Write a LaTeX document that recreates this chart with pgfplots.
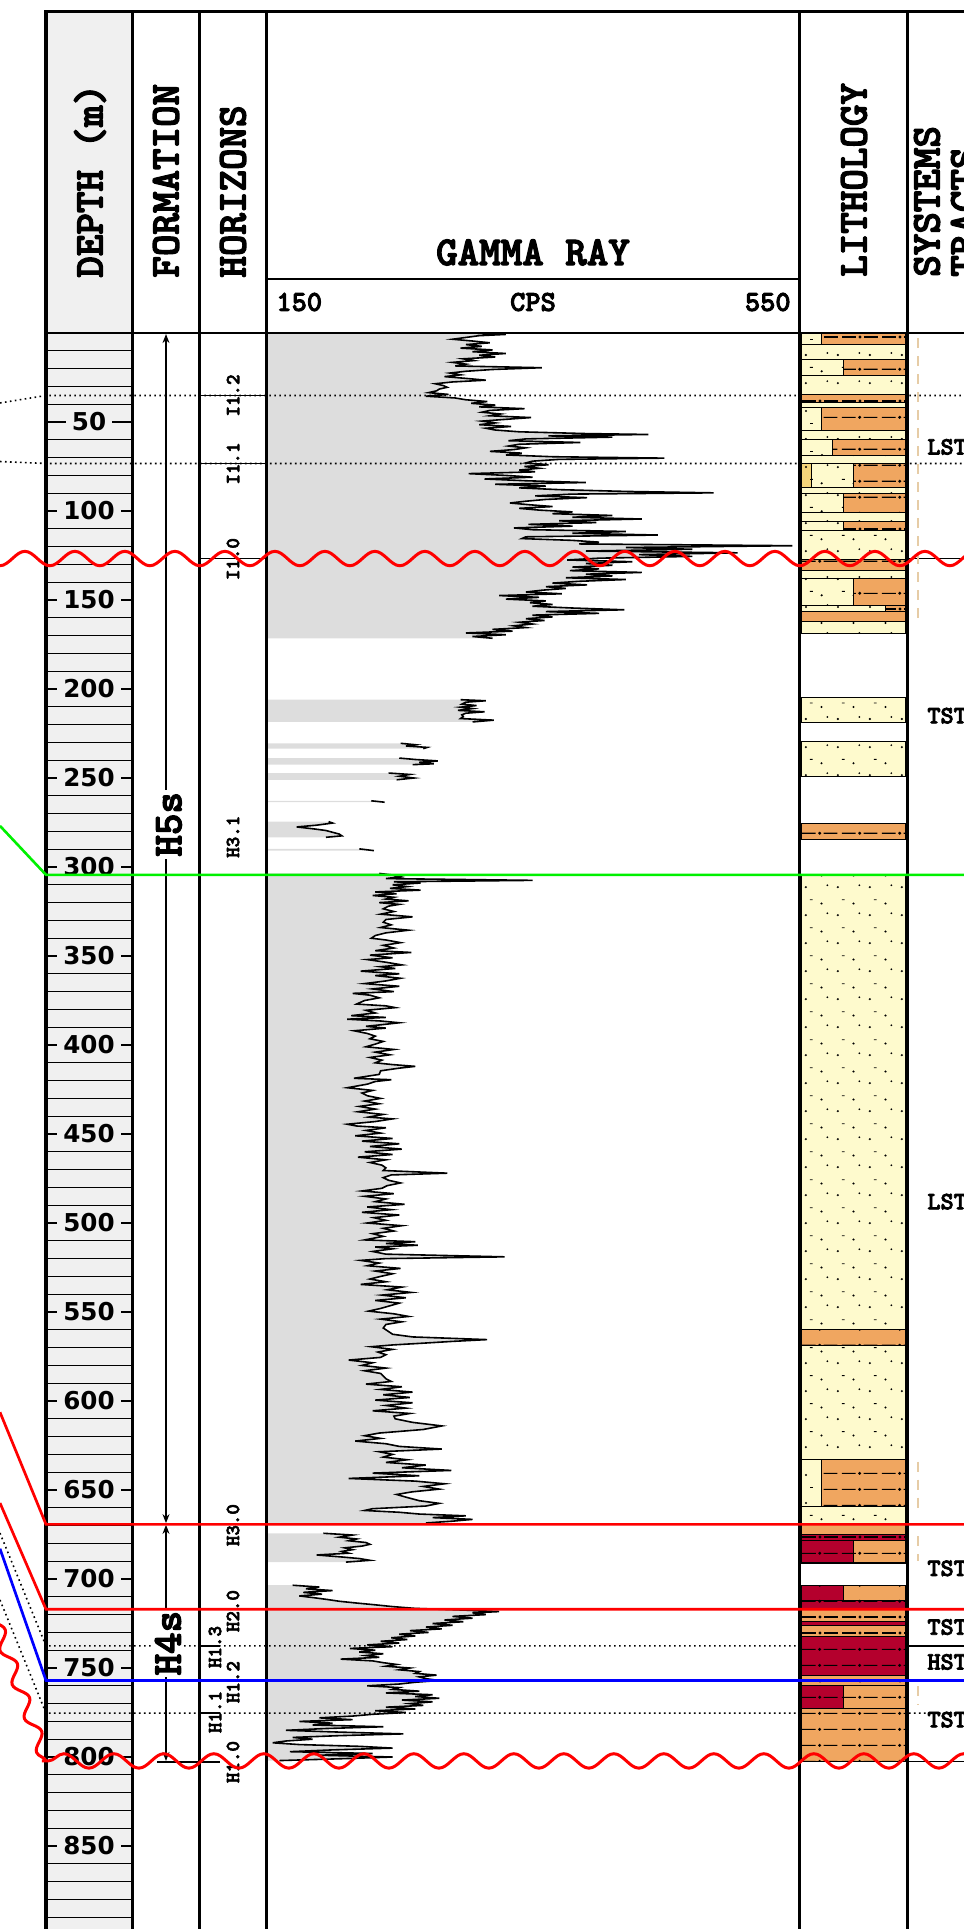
\documentclass[border=0pt]{standalone}
\usepackage{fontspec}
\setmainfont{Liberation Mono}
\newfontfamily\cour{lmmonolt10-bold}[Extension=.otf, FakeBold=3]
\newfontfamily\depthfont{DejaVu Sans}
\usepackage{pgfplots}
\pgfplotsset{compat=1.18}
\usepackage{pgfplotstable}
\usetikzlibrary{patterns,decorations.pathmorphing,arrows.meta}

\definecolor{depthgray}{HTML}{F0F0F0}
\definecolor{grfill}{HTML}{DDDDDD}
\definecolor{sandY}{HTML}{FEFACD}
\definecolor{shaleO}{HTML}{F0A660}
\definecolor{redR}{HTML}{B4002D}
\definecolor{goldG}{HTML}{F5D57A}
\definecolor{tanline}{HTML}{E6CCA6}
\definecolor{corrGreen}{HTML}{00F000}
\definecolor{corrRed}{HTML}{FF0000}
\definecolor{corrBlue}{HTML}{0000FF}

\pgfdeclarepatternformonly{sandpat}{\pgfqpoint{0pt}{0pt}}{\pgfqpoint{16pt}{14pt}}{\pgfqpoint{16pt}{14pt}}{%
  \pgfpathcircle{\pgfqpoint{3pt}{3pt}}{0.6pt}%
  \pgfpathcircle{\pgfqpoint{11pt}{9pt}}{0.6pt}%
  \pgfpathcircle{\pgfqpoint{14pt}{4pt}}{0.5pt}%
  \pgfusepath{fill}%
  \pgfsetlinewidth{0.45pt}%
  \pgfpathmoveto{\pgfqpoint{5pt}{11pt}}\pgfpathlineto{\pgfqpoint{6.5pt}{11pt}}%
  \pgfusepath{stroke}}
\pgfdeclarepatternformonly{shalepat}{\pgfqpoint{0pt}{0pt}}{\pgfqpoint{20pt}{8pt}}{\pgfqpoint{20pt}{8pt}}{%
  \pgfsetlinewidth{0.55pt}%
  \pgfpathmoveto{\pgfqpoint{1pt}{4pt}}\pgfpathlineto{\pgfqpoint{8pt}{4pt}}%
  \pgfpathmoveto{\pgfqpoint{12pt}{4pt}}\pgfpathlineto{\pgfqpoint{19pt}{4pt}}%
  \pgfusepath{stroke}%
  \pgfpathcircle{\pgfqpoint{10pt}{4pt}}{0.85pt}%
  \pgfusepath{fill}}

\tikzset{corrdot/.style={black, line width=0.8pt, dash pattern=on 0.8pt off 1.7pt}}

\newcommand{\hdr}{\cour\fontsize{20.5}{22}\selectfont}
\newcommand{\hzf}{\cour\fontsize{10}{11}\selectfont}
\newcommand{\stf}{\cour\fontsize{12.5}{13}\selectfont}
\newcommand{\scf}{\cour\fontsize{14.5}{15}\selectfont}

\newcommand{\lay}[6]{\addplot[draw=black, line width=0.5pt, fill=#5, postaction={pattern=#6}] coordinates {(#1,#3) (#2,#3) (#2,#4) (#1,#4)} -- cycle;}

% gamma-ray segment: filled from 150 CPS to the curve, then the curve
\newcommand{\grseg}[3]{%
  \addplot[fill=grfill, draw=none] table[x=g,y=d] {#1} -- (axis cs:150,#3) -- (axis cs:150,#2) -- cycle;
  \addplot[black, line width=0.8pt] table[x=g,y=d] {#1};
}

% gamma-ray segments: depth (m), GR (CPS)
\pgfplotstableread[row sep=\\]{d g\\
0 305\\ 0.8 330\\ 1.5 310\\ 2.5 300\\ 3.5 290\\ 4.5 305\\ 5.5 318\\ 6.5 300\\ 7.5 312\\ 8.5 296\\
9.5 320\\ 10.5 305\\ 11.5 330\\ 12.5 310\\ 13.5 322\\ 14.5 298\\ 15.5 306\\ 16.5 290\\ 17.5 300\\ 18.5 292\\
19.5 357\\ 20.5 320\\ 21.5 300\\ 22.5 288\\ 23.5 296\\ 24.5 284\\ 25.5 300\\ 26.5 315\\ 27.5 290\\ 28.5 277\\
29.5 283\\ 30.5 286\\ 31.5 280\\ 32.5 278\\ 33.5 272\\ 34.5 287\\ 35.5 270\\ 36.5 292\\ 37.5 300\\ 38.5 316\\
39.5 304\\ 40.5 322\\ 41.5 310\\ 42.5 344\\ 43.5 318\\ 44.5 312\\ 45.5 326\\ 46.5 318\\ 47.5 349\\ 48.5 330\\
49.5 312\\ 50.5 322\\ 51.5 310\\ 52.5 334\\ 53.5 315\\ 54.5 322\\ 55.5 340\\ 56.5 390\\ 57.0 437\\ 57.8 362\\
58.5 410\\ 59.5 345\\ 60.5 332\\ 61.5 386\\ 62.5 340\\ 63.5 332\\ 64.5 345\\ 65.5 336\\ 66.5 318\\ 67.5 342\\
68.5 330\\ 69.5 365\\ 70.3 449\\ 71.0 370\\ 72.0 350\\ 73.0 345\\ 74.0 362\\ 75.0 344\\ 76.0 355\\ 77.0 340\\
78.0 352\\ 79.0 302\\ 80.0 330\\ 81.0 350\\ 82.0 314\\ 83.0 345\\ 84.0 390\\ 85.0 322\\ 86.0 360\\ 87.0 340\\
88.0 370\\ 89.0 420\\ 89.8 486\\ 90.5 380\\ 91.5 352\\ 92.5 391\\ 93.5 360\\ 94.5 345\\ 95.5 333\\ 96.5 348\\
97.5 365\\ 98.5 340\\ 99.5 355\\ 100.5 380\\ 101.5 365\\ 102.5 410\\ 103.5 380\\ 104.5 432\\ 105.5 370\\ 106.5 398\\
107.5 347\\ 108.5 380\\ 109.5 336\\ 110.5 350\\ 111.5 420\\ 112.5 380\\ 113.5 444\\ 114.5 345\\ 115.5 342\\ 116.5 380\\
117.5 400\\ 118.5 385\\ 119.5 545\\ 120.5 420\\ 121.5 470\\ 122.5 390\\ 123.5 504\\ 124.5 430\\ 125.5 470\\ 126.5 400\\
127.5 376\\ 128.5 425\\ 129.5 390\\ 130.5 410\\ 131.5 380\\ 132.5 400\\ 133.5 378\\ 134.5 432\\ 135.5 390\\ 136.5 410\\
137.5 375\\ 138.5 420\\ 139.5 385\\ 140.5 365\\ 141.5 391\\ 142.5 360\\ 143.5 375\\ 144.5 357\\ 145.5 345\\ 146.5 372\\
147.5 325\\ 148.5 355\\ 149.5 330\\ 150.5 360\\ 151.5 348\\ 152.5 365\\ 153.5 350\\ 154.5 380\\ 155.5 419\\ 156.5 360\\
157.5 400\\ 158.5 350\\ 159.5 365\\ 160.5 345\\ 161.5 359\\ 162.5 340\\ 163.5 350\\ 164.5 336\\ 165.5 345\\ 166.5 320\\
167.5 335\\ 168.5 300\\ 169.5 330\\ 170.5 305\\ 171.5 320\\
}\segA
\pgfplotstableread[row sep=\\]{d g\\
206.0 296\\ 206.6 315\\ 207.4 300\\ 208.5 297\\ 209.3 308\\ 210.2 296\\ 211.0 305\\ 212.0 294\\ 212.8 314\\ 213.6 300\\
214.5 297\\ 215.5 298\\ 216.6 296\\ 217.5 321\\ 218.5 305\\
}\segB
\pgfplotstableread[row sep=\\]{d g\\ 230.5 251\\ 231.3 262\\ 232.0 255\\ 232.8 271\\ 233.5 268\\}\segC
\pgfplotstableread[row sep=\\]{d g\\ 238.8 250\\ 239.6 262\\ 240.4 279\\ 241.2 265\\ 242.0 276\\ 242.5 260\\}\segD
\pgfplotstableread[row sep=\\]{d g\\ 247.2 242\\ 248.0 258\\ 249.0 250\\ 250.0 261\\ 251.0 248\\}\segE
\pgfplotstableread[row sep=\\]{d g\\ 262.8 229\\ 263.6 239\\}\segF
\pgfplotstableread[row sep=\\]{d g\\ 274.5 197\\ 275.3 200\\ 276.5 188\\ 277.5 173\\ 278.5 185\\ 279.5 195\\ 280.5 200\\ 281.5 205\\ 282.5 207\\ 283.3 195\\}\segG
\pgfplotstableread[row sep=\\]{d g\\ 289.8 220\\ 290.8 231\\}\segH
\pgfplotstableread[row sep=\\]{d g\\
303.6 235\\ 304.5 245\\ 305.5 251\\ 306.5 240\\ 307.5 350\\ 308.3 246\\ 309.0 266\\ 310.0 245\\ 311.0 256\\ 312.0 243\\
313.0 266\\ 314.0 232\\ 315.0 248\\ 316.0 230\\ 317.0 246\\ 318.0 240\\ 319.0 257\\ 320.0 235\\ 321.0 250\\ 322.0 242\\
323.5 238\\ 325.0 246\\ 326.5 236\\ 328.0 260\\ 329.5 240\\ 331.0 238\\ 332.5 244\\ 334.0 236\\ 335.5 257\\ 337.0 240\\
338.5 232\\ 340.0 229\\ 341.0 240\\ 342.5 251\\ 344.0 238\\ 345.5 246\\ 347.0 232\\ 348.0 259\\ 349.5 228\\ 351.0 245\\
352.0 226\\ 353.5 240\\ 355.0 252\\ 356.0 236\\ 357.0 247\\ 358.5 221\\ 360.0 250\\ 361.0 232\\ 362.5 251\\ 364.0 240\\
365.5 224\\ 367.0 250\\ 368.5 230\\ 370.0 246\\ 371.0 215\\ 372.0 228\\ 373.5 235\\ 375.0 224\\ 377.0 218\\ 378.0 240\\
379.0 247\\ 380.5 225\\ 382.0 232\\ 383.5 214\\ 384.5 240\\ 385.5 211\\ 386.5 236\\ 387.5 250\\ 388.5 238\\ 389.5 225\\
390.5 240\\ 392.0 216\\ 393.5 226\\ 395.0 232\\ 396.5 228\\ 398.0 238\\ 399.5 232\\ 401.0 225\\ 402.5 246\\ 404.0 232\\
405.5 243\\ 407.0 228\\ 408.5 237\\ 410.0 232\\ 411.0 245\\ 412.0 262\\ 413.0 250\\ 414.5 236\\ 416.5 235\\ 418.7 216\\
419.5 244\\ 420.5 232\\ 422.0 226\\ 424.0 211\\ 425.5 230\\ 427.0 222\\ 428.5 226\\ 430.0 236\\ 431.5 224\\ 433.0 235\\
434.5 220\\ 436.0 232\\ 437.5 219\\ 439.0 238\\ 440.5 227\\ 441.5 245\\ 443.0 232\\ 444.5 211\\ 445.5 218\\ 446.5 240\\
448.0 225\\ 449.5 236\\ 451.0 217\\ 452.5 245\\ 454.0 222\\ 455.5 250\\ 457.0 228\\ 458.5 252\\ 460.0 224\\ 461.5 245\\
463.0 219\\ 464.5 240\\ 466.0 228\\ 467.5 237\\ 469.0 240\\ 470.5 238\\ 472.0 286\\ 473.0 244\\ 474.5 238\\ 476.0 242\\
477.5 251\\ 479.0 241\\ 480.5 237\\ 482.0 222\\ 483.5 246\\ 485.0 224\\ 486.5 240\\ 488.0 232\\ 489.5 254\\ 491.0 226\\
492.5 244\\ 494.0 222\\ 495.5 250\\ 497.0 231\\ 498.5 240\\ 500.0 226\\ 501.5 252\\ 503.0 238\\ 504.5 246\\ 506.0 230\\
507.5 238\\ 509.5 224\\ 510.5 262\\ 511.5 240\\ 512.5 264\\ 513.5 232\\ 514.5 245\\ 516.0 230\\ 517.5 240\\ 519.0 329\\
520.0 240\\ 521.0 221\\ 522.5 235\\ 524.0 226\\ 525.5 251\\ 527.0 232\\ 528.5 245\\ 530.0 236\\ 531.5 228\\ 533.0 240\\
534.5 221\\ 536.0 252\\ 537.5 241\\ 539.0 259\\ 540.5 237\\ 542.0 255\\ 543.5 232\\ 545.0 250\\ 546.5 243\\ 548.0 236\\
549.5 227\\ 551.0 246\\ 552.5 257\\ 554.0 236\\ 555.5 252\\ 557.0 240\\ 559.0 238\\ 561.0 242\\ 562.5 245\\ 564.0 260\\
565.5 316\\ 566.5 290\\ 567.5 268\\ 568.5 245\\ 569.5 229\\ 571.0 245\\ 572.5 234\\ 574.0 240\\ 575.5 236\\ 577.0 212\\
578.5 230\\ 580.0 222\\ 581.5 240\\ 583.0 224\\ 584.5 236\\ 586.0 238\\ 587.5 240\\ 589.0 244\\ 590.5 225\\ 592.0 252\\
593.5 236\\ 595.0 260\\ 596.5 238\\ 598.0 258\\ 599.5 232\\ 601.0 260\\ 602.5 240\\ 604.0 255\\ 605.5 230\\ 607.0 258\\
608.5 246\\ 610.0 247\\ 612.0 260\\ 614.0 282\\ 616.0 268\\ 618.0 235\\ 619.5 224\\ 621.0 236\\ 622.5 217\\ 624.0 240\\
625.5 250\\ 627.0 282\\ 628.5 235\\ 630.0 245\\ 631.5 238\\ 633.0 256\\ 634.5 240\\ 636.0 270\\ 637.5 252\\ 639.0 289\\
640.5 230\\ 642.0 265\\ 643.5 212\\ 645.0 262\\ 646.5 284\\ 648.0 268\\ 649.5 280\\ 651.0 260\\ 652.5 248\\ 654.0 255\\
656.0 265\\ 657.5 280\\ 659.0 270\\ 660.5 230\\ 661.5 224\\ 662.5 250\\ 663.5 265\\ 664.5 300\\ 665.5 275\\ 666.5 305\\
667.5 290\\ 668.5 270\\
}\segI
\pgfplotstableread[row sep=\\]{d g\\
674.3 193\\ 675.3 215\\ 676.5 205\\ 677.5 218\\ 678.5 212\\ 679.5 225\\ 680.5 228\\ 681.5 222\\ 682.5 209\\ 683.5 215\\
684.5 207\\ 685.5 212\\ 686.5 188\\ 687.5 205\\ 688.5 220\\ 689.5 228\\ 690.5 210\\
}\segJ
\pgfplotstableread[row sep=\\]{d g\\
703.5 170\\ 704.5 190\\ 705.5 180\\ 706.5 200\\ 707.5 178\\ 708.5 192\\ 709.5 175\\ 710.5 186\\ 711.5 196\\ 712.5 205\\
713.5 218\\ 714.5 232\\ 715.5 245\\ 716.5 262\\ 717.5 300\\ 718.3 325\\ 719.0 305\\ 720.0 315\\ 721.0 290\\ 722.0 305\\
723.0 284\\ 724.0 298\\ 725.0 275\\ 726.0 290\\ 727.0 270\\ 728.0 282\\ 729.0 258\\ 730.0 272\\ 731.0 250\\ 732.0 262\\
733.0 244\\ 734.0 256\\ 735.0 236\\ 736.0 250\\ 737.0 226\\ 738.0 245\\ 739.0 213\\ 740.0 232\\ 741.0 220\\ 742.0 238\\
743.0 225\\ 744.0 235\\ 745.0 206\\ 746.0 230\\ 747.0 238\\ 748.0 248\\ 749.0 240\\ 750.0 258\\ 751.0 250\\ 752.0 265\\
753.0 262\\ 754.0 278\\ 755.0 265\\ 756.0 270\\ 757.0 280\\ 758.0 262\\ 759.0 250\\ 760.0 226\\ 761.0 250\\ 762.0 245\\
763.0 265\\ 764.0 240\\ 765.0 275\\ 766.0 262\\ 767.0 280\\ 768.0 252\\ 769.0 275\\ 770.0 258\\ 771.0 268\\ 772.0 240\\
773.0 262\\ 774.0 232\\ 775.0 255\\ 776.0 230\\ 777.0 215\\ 778.0 190\\ 779.0 215\\ 780.0 175\\ 781.0 200\\ 782.0 185\\
783.0 238\\ 784.0 195\\ 785.0 165\\ 786.0 205\\ 787.0 253\\ 788.0 205\\ 789.0 170\\ 790.0 185\\ 791.0 165\\ 792.0 155\\
793.0 175\\ 794.0 220\\ 795.0 245\\ 796.0 200\\ 797.0 168\\ 798.0 230\\ 799.0 190\\ 800.0 245\\ 801.0 205\\ 802.0 160\\
}\segK

\begin{document}
\begin{tikzpicture}
% ---- depth ruler column ----
\begin{axis}[at={(23pt,0pt)}, anchor=south west, scale only axis,
  width=43pt, height=959pt, xmin=0, xmax=1, ymin=-180.9, ymax=896.63, y dir=reverse,
  axis line style={draw=none}, xtick=\empty, ytick={10,20,...,890}, yticklabels={},
  major tick length=0pt, ymajorgrids, grid style={black, line width=0.65pt},
  axis background/.style={fill=depthgray}]
\addplot[draw=none] coordinates {(0.5,100)};
\end{axis}

% ---- gamma ray track ----
\begin{axis}[at={(133pt,0pt)}, anchor=south west, scale only axis,
  width=266.5pt, height=964.5pt, xmin=150, xmax=550, ymin=-187.08, ymax=896.63,
  y dir=reverse, hide axis]
\grseg{\segA}{0}{171.5}
\grseg{\segB}{206.0}{218.5}
\grseg{\segC}{230.5}{233.5}
\grseg{\segD}{238.8}{242.5}
\grseg{\segE}{247.2}{251.0}
\grseg{\segF}{262.8}{263.6}
\grseg{\segG}{274.5}{283.3}
\grseg{\segH}{289.8}{290.8}
\grseg{\segI}{303.6}{668.5}
\grseg{\segJ}{674.3}{690.5}
\grseg{\segK}{703.5}{802.0}
\end{axis}

% ---- master frame (x in pixels, y in depth) ----
\begin{axis}[at={(0pt,0pt)}, anchor=south west, scale only axis,
  width=482pt, height=964.5pt, xmin=0, xmax=964, ymin=-187.08, ymax=896.63,
  y dir=reverse, hide axis]
% dotted correlation lines
\addplot[corrdot] coordinates {(0,39.3) (46,35.1) (964,35.1)};
\addplot[corrdot] coordinates {(0,72.2) (46,73.3) (964,73.3)};
\addplot[corrdot] coordinates {(0,674.2) (46,737.6) (964,737.6)};
\addplot[corrdot] coordinates {(0,711.8) (46,775.3) (964,775.3)};
% horizon ticks
\draw[line width=0.8pt] (axis cs:199,35.1) -- (axis cs:266,35.1);
\draw[line width=0.8pt] (axis cs:199,73.3) -- (axis cs:266,73.3);
\draw[line width=0.8pt] (axis cs:199,126.7) -- (axis cs:266,126.7);
\draw[line width=0.8pt] (axis cs:199,737.6) -- (axis cs:220,737.6);
\draw[line width=0.8pt] (axis cs:199,775.3) -- (axis cs:220,775.3);
\draw[line width=0.8pt] (axis cs:157,802.8) -- (axis cs:220,802.8);
% lithology
\lay{801}{821}{0}{6.5}{sandY}{sandpat} \lay{821}{905}{0}{6.5}{shaleO}{shalepat}
\lay{801}{905}{6.5}{14.7}{sandY}{sandpat}
\lay{801}{843}{14.7}{23.6}{sandY}{sandpat} \lay{843}{905}{14.7}{23.6}{shaleO}{shalepat}
\lay{801}{905}{23.6}{34.5}{sandY}{sandpat}
\lay{801}{905}{34.5}{38.8}{shaleO}{shalepat}
\lay{801}{905}{38.8}{42}{sandY}{sandpat}
\lay{801}{821}{42}{55}{sandY}{sandpat} \lay{821}{905}{42}{55}{shaleO}{shalepat}
\lay{801}{905}{55}{59.7}{sandY}{sandpat}
\lay{801}{832}{59.7}{69}{sandY}{sandpat} \lay{832}{905}{59.7}{69}{shaleO}{shalepat}
\lay{801}{905}{69}{73.4}{sandY}{sandpat}
\lay{801}{811}{73.4}{86.8}{goldG}{sandpat} \lay{811}{853}{73.4}{86.8}{sandY}{sandpat} \lay{853}{905}{73.4}{86.8}{shaleO}{shalepat}
\lay{801}{905}{86.8}{90.3}{sandY}{sandpat}
\lay{801}{843}{90.3}{100.7}{sandY}{sandpat} \lay{843}{905}{90.3}{100.7}{shaleO}{shalepat}
\lay{801}{905}{100.7}{105.9}{sandY}{sandpat}
\lay{801}{843}{105.9}{111.1}{sandY}{sandpat} \lay{843}{905}{105.9}{111.1}{shaleO}{shalepat}
\lay{801}{905}{111.1}{127}{sandY}{sandpat}
\lay{801}{905}{127}{133.3}{shaleO}{shalepat}
\lay{801}{905}{133.3}{137.8}{sandY}{sandpat}
\lay{801}{853}{137.8}{153}{sandY}{sandpat} \lay{853}{905}{137.8}{153}{shaleO}{shalepat}
\lay{801}{885}{153}{156.2}{sandY}{sandpat} \lay{885}{905}{153}{156.2}{shaleO}{shalepat}
\lay{801}{905}{156.2}{162.2}{shaleO}{shalepat}
\lay{801}{905}{162.2}{168.9}{sandY}{sandpat}
\lay{801}{905}{204.5}{218.8}{sandY}{sandpat}
\lay{801}{905}{229.3}{249}{sandY}{sandpat}
\lay{801}{905}{275.3}{284.8}{shaleO}{shalepat}
\lay{801}{905}{304.4}{560}{sandY}{sandpat}
\lay{801}{905}{560}{569}{shaleO}{shalepat}
\lay{801}{905}{569}{633}{sandY}{sandpat}
\lay{801}{821}{633}{659.5}{sandY}{sandpat} \lay{821}{905}{633}{659.5}{shaleO}{shalepat}
\lay{801}{905}{659.5}{669}{sandY}{sandpat}
\lay{801}{905}{669}{675.2}{shaleO}{shalepat}
\lay{801}{905}{675.2}{678.5}{redR}{shalepat}
\lay{801}{853}{678.5}{691}{redR}{shalepat} \lay{853}{905}{678.5}{691}{shaleO}{shalepat}
\lay{801}{843}{703.4}{712}{redR}{shalepat} \lay{843}{905}{703.4}{712}{shaleO}{shalepat}
\lay{801}{905}{712}{716.9}{redR}{shalepat}
\lay{801}{905}{716.9}{724}{shaleO}{shalepat}
\lay{801}{905}{724}{726}{redR}{shalepat}
\lay{801}{905}{726}{732.4}{shaleO}{shalepat}
\lay{801}{905}{732.4}{754}{redR}{shalepat}
\lay{801}{905}{754}{759.8}{shaleO}{shalepat}
\lay{801}{843}{759.8}{772.6}{redR}{shalepat} \lay{843}{905}{759.8}{772.6}{shaleO}{shalepat}
\lay{801}{905}{772.6}{802.5}{shaleO}{shalepat}
% systems tracts boundaries and dashed marks
\draw[line width=0.7pt] (axis cs:907,126.7) -- (axis cs:964,126.7);
\draw[line width=0.7pt] (axis cs:907,737.6) -- (axis cs:964,737.6);
\draw[line width=0.9pt] (axis cs:907,802.5) -- (axis cs:964,802.5);
\draw[tanline, line width=1pt, dash pattern=on 5pt off 4pt] (axis cs:918,3) -- (axis cs:918,160);
\draw[tanline, line width=1pt, dash pattern=on 5pt off 4pt] (axis cs:918,634) -- (axis cs:918,660);
\draw[tanline, line width=1pt, dash pattern=on 5pt off 4pt] (axis cs:918,676) -- (axis cs:918,690);
\draw[tanline, line width=1pt, dash pattern=on 5pt off 4pt] (axis cs:918,760) -- (axis cs:918,771);
% frame
\draw[line width=1.5pt, line cap=rect] (axis cs:46,-180.9) -- (axis cs:964,-180.9);
\draw[line width=1.3pt] (axis cs:46,0) -- (axis cs:964,0);
\draw[line width=1pt] (axis cs:266,-30.3) -- (axis cs:799,-30.3);
\pgfplotsinvokeforeach{46,132,199,266,799,907}{
  \draw[line width=1.5pt, line cap=rect] (axis cs:#1,-180.9) -- (axis cs:#1,900);
}
% depth labels
\pgfplotsinvokeforeach{50,100,...,850}{
  \node[fill=depthgray, inner xsep=3pt, inner ysep=1pt, font=\depthfont\bfseries\fontsize{12.3}{14}\selectfont] at (axis cs:89,#1) {#1};
}
% header texts
\node[rotate=90, anchor=west, inner sep=0pt, font=\hdr] at (axis cs:90,-30.9) {DEPTH (m)};
\node[rotate=90, anchor=west, inner sep=0pt, font=\hdr] at (axis cs:166,-30.9) {FORMATION};
\node[rotate=90, anchor=west, inner sep=0pt, font=\hdr] at (axis cs:233,-30.9) {HORIZONS};
\node[rotate=90, anchor=west, inner sep=0pt, font=\hdr] at (axis cs:854,-31.4) {LITHOLOGY};
\node[rotate=90, anchor=west, inner sep=0pt, font=\hdr] at (axis cs:927,-31.4) {SYSTEMS};
\node[rotate=90, anchor=west, inner sep=0pt, font=\hdr] at (axis cs:964,-31.4) {TRACTS};
\node[anchor=base, inner sep=0pt, font=\hdr] at (axis cs:533,-38.2) {GAMMA RAY};
\node[anchor=west, inner sep=0pt, font=\scf] at (axis cs:276,-17.4) {150};
\node[anchor=center, inner sep=0pt, font=\scf] at (axis cs:533,-17.4) {CPS};
\node[anchor=east, inner sep=0pt, font=\scf] at (axis cs:791,-17.4) {550};
% formation arrows and labels
\draw[line width=0.6pt, {Stealth[length=4.5pt,width=3.5pt]}-{Stealth[length=4.5pt,width=3.5pt]}] (axis cs:166,0.6) -- (axis cs:166,668.6);
\draw[line width=0.6pt, {Stealth[length=4.5pt,width=3.5pt]}-{Stealth[length=4.5pt,width=3.5pt]}] (axis cs:166,669.6) -- (axis cs:166,802.2);
\node[rotate=90, fill=white, inner sep=1pt, font=\hdr] at (axis cs:169,276) {H5s};
\node[rotate=90, fill=white, inner sep=1pt, font=\hdr] at (axis cs:168,736) {H4s};
% horizon labels
\node[rotate=90, font=\hzf, inner sep=0pt] at (axis cs:233,35.1) {I1.2};
\node[rotate=90, font=\hzf, inner sep=0pt] at (axis cs:233,73.3) {I1.1};
\node[rotate=90, font=\hzf, inner sep=0pt] at (axis cs:233,127) {I1.0};
\node[rotate=90, font=\hzf, inner sep=0pt] at (axis cs:233,283) {H3.1};
\node[rotate=90, font=\hzf, inner sep=0pt] at (axis cs:233,669.7) {H3.0};
\node[rotate=90, font=\hzf, inner sep=0pt] at (axis cs:233,718) {H2.0};
\node[rotate=90, font=\hzf, inner sep=0pt] at (axis cs:215,738.2) {H1.3};
\node[rotate=90, font=\hzf, inner sep=0pt] at (axis cs:233,757.9) {H1.2};
\node[rotate=90, font=\hzf, inner sep=0pt] at (axis cs:215,774.7) {H1.1};
\node[rotate=90, font=\hzf, inner sep=0pt] at (axis cs:233,802.8) {H1.0};
% systems tracts labels
\node[anchor=west, inner sep=0pt, font=\stf] at (axis cs:927,64) {LST};
\node[anchor=west, inner sep=0pt, font=\stf] at (axis cs:927,215) {TST};
\node[anchor=west, inner sep=0pt, font=\stf] at (axis cs:927,488) {LST};
\node[anchor=west, inner sep=0pt, font=\stf] at (axis cs:927,694) {TST};
\node[anchor=west, inner sep=0pt, font=\stf] at (axis cs:927,727) {TST};
\node[anchor=west, inner sep=0pt, font=\stf] at (axis cs:927,746.6) {HST};
\node[anchor=west, inner sep=0pt, font=\stf] at (axis cs:927,779) {TST};
% coloured correlation lines
\addplot[corrGreen, line width=1.3pt] coordinates {(0,276.9) (46,304.4) (964,304.4)};
\addplot[corrRed, line width=1.35pt] coordinates {(0,606.3) (46,669.3) (964,669.3)};
\addplot[corrRed, line width=1.35pt] coordinates {(0,657.3) (46,717) (964,717)};
\addplot[corrBlue, line width=1.35pt] coordinates {(0,683) (46,757) (964,757)};
% unconformities
\addplot[corrRed, line width=1.5pt, decorate, decoration={snake, amplitude=3.6pt, segment length=25pt}] coordinates {(1015.5,126.7) (-20,126.7)};
\addplot[corrRed, line width=1.5pt, decorate, decoration={snake, amplitude=3.6pt, segment length=25pt}] coordinates {(1004.5,802.2) (42,802.2)};
\addplot[corrRed, line width=1.5pt, decorate, decoration={snake, amplitude=3pt, segment length=18pt}] coordinates {(46,802.2) (-12,711.5)};
\end{axis}
\pgfresetboundingbox
\useasboundingbox (0,0) rectangle (482pt,964.5pt);
\end{tikzpicture}
\end{document}
